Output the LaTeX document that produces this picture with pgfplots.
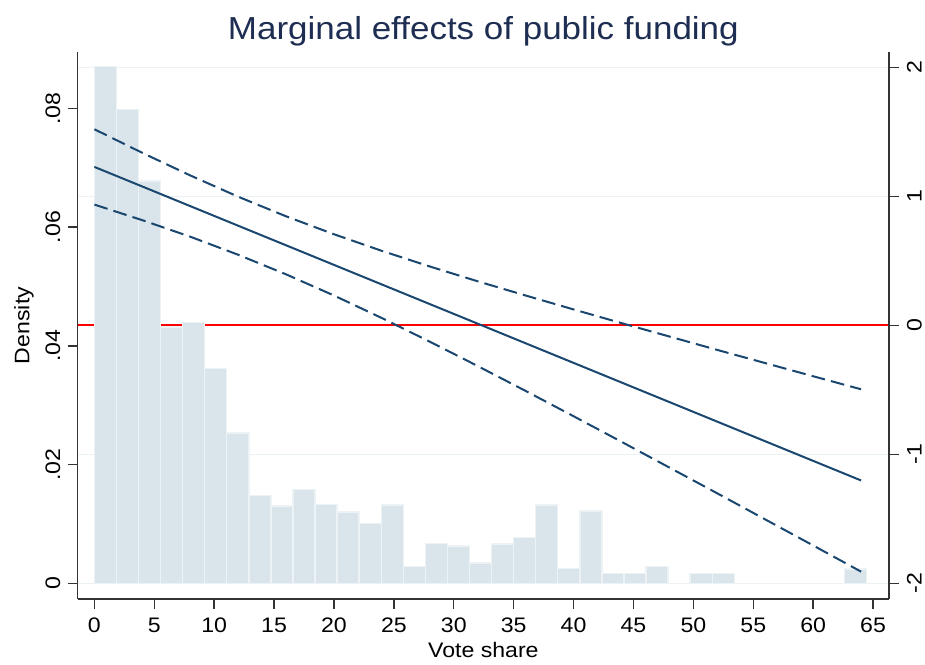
\documentclass[border=0pt]{standalone}
\usepackage{fontspec}
\setmainfont{Liberation Sans}[FakeStretch=1.1]
\usepackage{pgfplots}
\pgfplotsset{compat=1.18}
\definecolor{barfill}{HTML}{D9E5EA}
\definecolor{baredge}{HTML}{EDF3F5}
\definecolor{gridc}{HTML}{EAF2F3}
\definecolor{stnavy}{HTML}{1A476F}
\definecolor{titlec}{HTML}{1E2D52}
\definecolor{axc}{HTML}{333333}
\begin{document}
\begin{tikzpicture}
\pgfplotsset{
  common/.style={
    width=405.65pt, height=273.5pt, scale only axis,
    xmin=-1.394, xmax=66.33,
    scaled x ticks=false, scaled y ticks=false,
    tick align=outside, major tick length=5pt,
    tick style={axc, line width=0.7pt},
    axis line style={-, axc, line width=0.7pt},
    /pgf/number format/assume math mode=true,
    tick label style={font=\fontsize{10.5}{12}\selectfont},
    label style={font=\fontsize{10.5}{12}\selectfont},
  }
}
\begin{axis}[common, name=main,
  ymin=-0.00265, ymax=0.08952,
  axis x line*=bottom, axis y line*=left,
  xtick={0,5,...,65},
  xticklabel style={yshift=-11.65pt, anchor=base},
  ytick={0,0.02,0.04,0.06,0.08},
  yticklabels={0,.02,.04,.06,.08},
  yticklabel style={xshift=-3.85pt, rotate=90, anchor=base},
  extra y ticks={0,0.02174,0.04347,0.06521,0.08694},
  extra y tick labels={},
  extra y tick style={grid=major, major tick length=0pt, major grid style={gridc, line width=0.75pt}},
  xlabel={Vote share}, ylabel={Density},
  xlabel style={at={(axis description cs:0.5,-0.1066)}, anchor=base},
  ylabel style={at={(axis description cs:-0.05966,0.5)}, anchor=base},
  title={Marginal effects of public funding},
  title style={font=\fontsize{15.9}{18}\selectfont, text=titlec, at={(axis description cs:0.5,1)}, anchor=base, yshift=0.35pt},
]
\addplot[red, line width=1pt, forget plot] coordinates {(-1.394,0.04347) (66.33,0.04347)};
\addplot[ybar interval, fill=barfill, draw=baredge, line width=0.7pt] coordinates {
(0,0.0871) (1.842,0.0798) (3.684,0.0678) (5.526,0.0432) (7.368,0.0439)
(9.21,0.0362) (11.052,0.0253) (12.894,0.0148) (14.736,0.0130) (16.578,0.0158)
(18.42,0.0133) (20.262,0.0120) (22.104,0.0101) (23.946,0.0132) (25.788,0.0028)
(27.63,0.0067) (29.472,0.0063) (31.314,0.0034) (33.156,0.0066) (34.998,0.0077)
(36.84,0.0132) (38.682,0.0025) (40.524,0.0122) (42.366,0.0016) (44.208,0.0016)
(46.05,0.0028) (47.892,0) (49.734,0.0016) (51.576,0.0016) (53.418,0)
(55.26,0) (57.102,0) (58.944,0) (60.786,0) (62.628,0.0024) (64.47,0.0024)
};
\end{axis}
\begin{axis}[common,
  ymin=-2.122, ymax=2.119,
  axis x line=none, axis y line*=right,
  ytick={-2,-1,0,1,2},
  yticklabels={-2,-1,0,1,2},
  yticklabel style={xshift=11.35pt, rotate=90, anchor=base},
]
\addplot[stnavy, line width=1pt] coordinates {(0,1.228) (64,-1.203)};
\addplot[stnavy, line width=1pt, dash pattern=on 6.9pt off 3.1pt] coordinates {
(0,1.520) (4,1.337) (8,1.162) (12,0.997) (16,0.845) (20,0.706) (24,0.577)
(28,0.456) (32,0.341) (36,0.231) (40,0.123) (44,0.017) (48,-0.087)
(52,-0.191) (56,-0.293) (60,-0.395) (64,-0.496)
};
\addplot[stnavy, line width=1pt, dash pattern=on 6.9pt off 3.1pt] coordinates {
(0,0.936) (4,0.815) (8,0.687) (12,0.547) (16,0.395) (20,0.231) (24,0.056)
(28,-0.127) (32,-0.316) (36,-0.509) (40,-0.705) (44,-0.903) (48,-1.103)
(52,-1.303) (56,-1.505) (60,-1.707) (64,-1.910)
};
\end{axis}
\pgfresetboundingbox
\path ([xshift=-38.85pt,yshift=-32.5pt]main.south west) rectangle ([xshift=18pt,yshift=26pt]main.north east);
\end{tikzpicture}
\end{document}
